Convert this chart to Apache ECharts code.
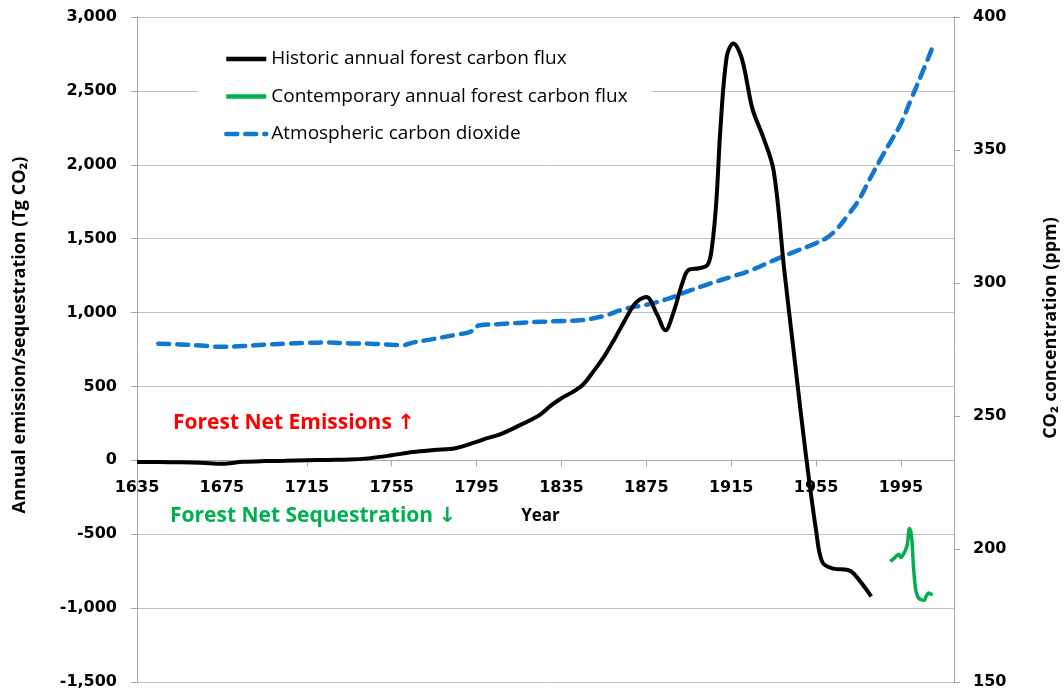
<!DOCTYPE html>
<html>
<head>
<meta charset="utf-8">
<script src="https://cdn.jsdelivr.net/npm/echarts@6/dist/echarts.min.js"></script>
<style>
html,body{margin:0;padding:0;background:#fff;}
#chart{width:1064px;height:691px;}
</style>
</head>
<body>
<div id="chart"></div>
<script>
// ---- data ----
var xTickLabels = ['1635','1675','1715','1755','1795','1835','1875','1915','1955','1995'];
var histYears = [1635,1645,1655,1665,1675,1685,1695,1705,1715,1725,1735,1745,1755,1765,1775,1785,1795,1800,1805,1810,1815,1820,1825,1830,1835,1840,1845,1850,1855,1860,1865,1870,1875,1880,1884,1888,1892,1895,1900,1904,1906,1908,1910,1913,1916,1920,1925,1930,1935,1940,1945,1950,1955,1958,1963,1970,1973,1981];
var histFlux  = [-12,-12,-13,-16,-23,-10,-5,-3,0,3,5,15,34,56,70,82,125,150,170,200,235,270,310,370,420,460,510,600,700,820,950,1065,1105,990,880,1010,1200,1290,1300,1325,1450,1750,2260,2740,2820,2720,2380,2190,1960,1290,670,60,-474,-690,-733,-742,-770,-920];
var contYears = [1990,1991,1992,1993,1994,1995,1996,1997,1998,1999,2000,2001,2002,2003,2004,2005,2006,2007,2008,2009,2010];
var contFlux  = [-685,-672,-660,-645,-636,-658,-640,-612,-570,-462,-515,-740,-880,-925,-940,-945,-947,-915,-898,-905,-907];
var co2Years = [1645,1655,1665,1675,1685,1695,1705,1715,1725,1735,1745,1755,1760,1765,1775,1785,1792,1796,1805,1815,1825,1835,1845,1855,1865,1875,1885,1895,1905,1915,1925,1935,1945,1955,1960,1965,1970,1975,1980,1985,1990,1995,2000,2005,2010];
var co2Ppm   = [277.2,276.9,276.5,276.0,276.3,276.8,277.2,277.5,277.6,277.3,277.2,276.8,276.6,277.6,279.0,280.5,281.6,284.0,284.5,285.0,285.4,285.7,286.1,287.6,290.3,291.8,294.0,297.0,299.8,302.3,305.0,308.5,311.8,315.0,317.0,320.5,325.5,331.0,338.6,346.0,353.0,360.0,369.5,379.0,388.8];
var leftTicks = [-1500,-1000,-500,0,500,1000,1500,2000,2500,3000];
var rightTicks = [150,200,250,300,350,400];

var startYear = 1635, endYear = 2020;
function pairs(xs, ys){ return xs.map(function(x,i){ return [x - startYear, ys[i]]; }); }

var W = 1064, H = 691;
var gridTop = 17, gridBottom = 9;
var leftMin = leftTicks[0], leftMax = leftTicks[leftTicks.length-1];
var plotH = H - gridTop - gridBottom;
// x-axis sits on the zero line of the left axis
var zeroOffset = -plotH * (0 - leftMin) / (leftMax - leftMin);

var chart = echarts.init(document.getElementById('chart'));
var gridColor = '#bfbfbf';
var axisColor = '#a6a6a6';
var tickFont = {fontFamily:'DejaVu Sans', fontWeight:'bold', fontSize:16, color:'#000'};

var legendNames = ['Historic annual forest carbon flux','Contemporary annual forest carbon flux','Atmospheric carbon dioxide'];

chart.setOption({
  animation:false,
  backgroundColor:'#fff',
  grid:{left:137, right:110, top:gridTop, bottom:gridBottom, containLabel:false, outerBoundsMode:'none'},
  legend:{
    orient:'vertical', left:198, top:31,
    padding:[18,24,7,26],
    backgroundColor:'#fff',
    itemWidth:40, itemHeight:14, itemGap:17.5,
    itemStyle:{opacity:0},
    textStyle:{fontFamily:'Open Sans', fontSize:19, color:'#000', lineHeight:20},
    data:[
      {name:legendNames[0], lineStyle:{width:4.5}},
      {name:legendNames[1], lineStyle:{width:4.5}},
      {name:legendNames[2], lineStyle:{width:4.5}}
    ]
  },
  xAxis:{
    type:'value', min:0, max:endYear-startYear, interval:40,
    position:'bottom', offset:zeroOffset,
    axisLine:{show:true, onZero:false, lineStyle:{color:axisColor, width:1}},
    axisTick:{show:true, length:6, lineStyle:{color:axisColor}},
    splitLine:{show:false},
    axisLabel:Object.assign({margin:20, showMaxLabel:false, formatter:function(v){ return xTickLabels[Math.round(v/40)] || ''; }}, tickFont),
    name:'Year', nameLocation:'middle', nameGap:47,
    nameTextStyle:{fontFamily:'Open Sans', fontWeight:'bold', fontSize:17, color:'#000', padding:[0,10,0,0]}
  },
  yAxis:[{
    type:'value', min:leftMin, max:leftMax, interval:500, position:'left',
    axisLine:{show:true, onZero:false, lineStyle:{color:axisColor}},
    axisTick:{show:true, length:6, lineStyle:{color:axisColor}},
    splitLine:{show:true, lineStyle:{color:gridColor, width:1}},
    axisLabel:Object.assign({margin:20}, tickFont)
  },{
    type:'value', min:rightTicks[0], max:rightTicks[rightTicks.length-1], interval:50, position:'right',
    axisLine:{show:true, onZero:false, lineStyle:{color:axisColor}},
    axisTick:{show:true, length:6, lineStyle:{color:axisColor}},
    splitLine:{show:false},
    axisLabel:Object.assign({margin:19}, tickFont)
  }],
  graphic:[
    {type:'text', left:173, top:413, style:{text:'Forest Net Emissions \u2191', fill:'#ff0000', font:'bold 21px "Open Sans", "DejaVu Sans"'}},
    {type:'text', left:170, top:506, style:{text:'Forest Net Sequestration \u2193', fill:'#00b050', font:'bold 21px "Open Sans", "DejaVu Sans"'}},
    {type:'text', x:20, y:335, rotation:Math.PI/2, style:{text:'Annual emission/sequestration (Tg CO\u2082)', fill:'#000', font:'bold 18px "Open Sans"', textAlign:'center', textVerticalAlign:'middle'}},
    {type:'text', x:1051, y:328, rotation:Math.PI/2, style:{text:'CO\u2082 concentration (ppm)', fill:'#000', font:'bold 18px "Open Sans"', textAlign:'center', textVerticalAlign:'middle'}}
  ],
  series:[{
    name:legendNames[0], type:'line', yAxisIndex:0,
    data:pairs(histYears, histFlux), symbol:'none', smooth:0.35,
    lineStyle:{color:'#000', width:4}, itemStyle:{color:'#000'}, z:3
  },{
    name:legendNames[1], type:'line', yAxisIndex:0,
    data:pairs(contYears, contFlux), symbol:'none', smooth:0.35,
    lineStyle:{color:'#00b050', width:3.5}, itemStyle:{color:'#00b050'}, z:3
  },{
    name:legendNames[2], type:'line', yAxisIndex:1,
    data:pairs(co2Years, co2Ppm), symbol:'none', smooth:0.4,
    lineStyle:{color:'#1177d1', width:4.5, type:[11,8], cap:'round'}, itemStyle:{color:'#1177d1'}, z:2
  }]
});
</script>
</body>
</html>
